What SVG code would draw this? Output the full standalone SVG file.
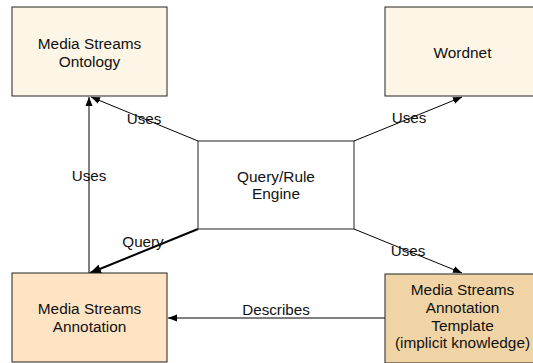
<svg xmlns="http://www.w3.org/2000/svg" width="533" height="363" viewBox="0 0 533 363">
<style>
.box{stroke:#222;stroke-width:1}
.light{fill:#FDF5E6}
.peach{fill:#FFE4C4}
.tan{fill:#F0D4A6}
text{font-family:"Liberation Sans",Arial,sans-serif;font-size:15.4px;fill:#111;text-anchor:middle}
.lbl{font-size:15.2px}
.c{stroke:#000;stroke-width:1;fill:none;marker-end:url(#ah)}
.thick{stroke-width:2;marker-end:url(#ah2)}
</style>
<defs>
<marker id="ah" markerUnits="userSpaceOnUse" markerWidth="10" markerHeight="8" refX="9" refY="4" orient="auto">
<path d="M0,0.5 L9,4 L0,7.5 Z" fill="#000"/>
</marker>
<marker id="ah2" markerUnits="userSpaceOnUse" markerWidth="12" markerHeight="10" refX="11" refY="5" orient="auto">
<path d="M0,0.5 L11,5 L0,9.5 Z" fill="#000"/>
</marker>
</defs>
<rect width="533" height="363" fill="#fff"/>
<g id="connectors">
<line class="c" x1="198" y1="141" x2="91" y2="97"/>
<line class="c" x1="89" y1="273" x2="89" y2="97"/>
<line class="c" x1="354" y1="141" x2="462" y2="97"/>
<line class="c thick" x1="198" y1="229" x2="90" y2="273"/>
<line class="c" x1="354" y1="229" x2="462" y2="273"/>
<line class="c" x1="385" y1="318" x2="168" y2="318"/>
<text class="lbl" x="144" y="124">Uses</text>
<text class="lbl" x="89" y="181">Uses</text>
<text class="lbl" x="409" y="123">Uses</text>
<text class="lbl" x="143" y="247">Query</text>
<text class="lbl" x="408" y="256">Uses</text>
<text class="lbl" x="276" y="315">Describes</text>
</g>
<g id="ontology">
<rect class="box light" x="12" y="7" width="155" height="89"/>
<text x="89.5" y="49">Media Streams</text>
<text x="89.5" y="67">Ontology</text>
</g>
<g id="wordnet">
<rect class="box light" x="385" y="7" width="155" height="89"/>
<text x="462.5" y="58">Wordnet</text>
</g>
<g id="engine">
<rect x="198" y="141" width="156" height="88" fill="#fff" stroke="#222"/>
<text x="276" y="182">Query/Rule</text>
<text x="276" y="199">Engine</text>
</g>
<g id="annotation">
<rect class="box peach" x="12" y="273" width="155" height="89"/>
<text x="89.5" y="314">Media Streams</text>
<text x="89.5" y="332">Annotation</text>
</g>
<g id="template">
<rect class="box tan" x="385" y="274" width="155" height="89"/>
<text x="462.5" y="295">Media Streams</text>
<text x="462.5" y="313">Annotation</text>
<text x="462.5" y="331">Template</text>
<text x="462.5" y="348">(implicit knowledge)</text>
</g>
</svg>
